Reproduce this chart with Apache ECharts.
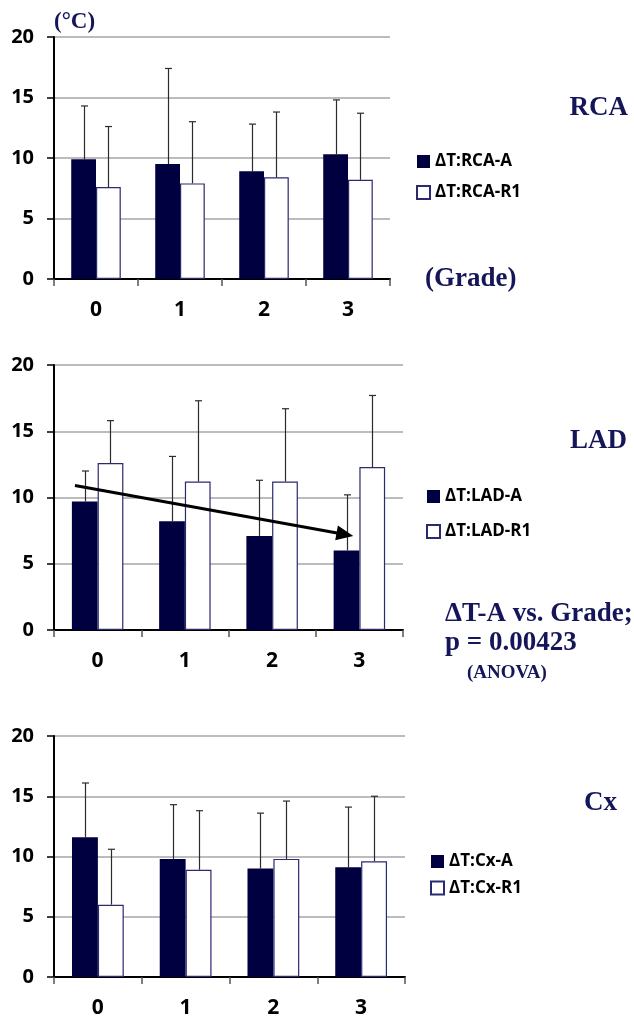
<!DOCTYPE html>
<html>
<head>
<meta charset="utf-8">
<script src="https://cdn.jsdelivr.net/npm/echarts@6/dist/echarts.min.js"></script>
<style>
  html, body { margin: 0; padding: 0; background: #fff; }
  #chart { width: 634px; height: 1019px; }
</style>
</head>
<body>
<div id="chart"></div>
<script>
// Coronary temperature differences (mean + SD) by grade, per vessel
const grades = ['0', '1', '2', '3'];

const rcaA    = [9.9, 9.5, 8.9, 10.3];
const rcaASd  = [4.4, 7.9, 3.9, 4.5];
const rcaR1   = [7.6, 7.9, 8.4, 8.2];
const rcaR1Sd = [5.0, 5.1, 5.4, 5.5];

const ladA    = [9.7, 8.2, 7.1, 6.0];
const ladASd  = [2.3, 4.9, 4.2, 4.2];
const ladR1   = [12.6, 11.2, 11.2, 12.3];
const ladR1Sd = [3.2, 6.1, 5.5, 5.4];

const cxA     = [11.6, 9.8, 9.0, 9.1];
const cxASd   = [4.5, 4.5, 4.6, 5.0];
const cxR1    = [6.0, 8.9, 9.8, 9.6];
const cxR1Sd  = [4.6, 4.9, 4.8, 5.4];

// trend arrow for ΔT-A in LAD: [x0, y0, x1, y1] in (grade, °C)
const ladTrendArrow = [[-0.26, 10.9, 2.93, 7.1]];

const yMin = 0, yMax = 20, yStep = 5;

// ---- styling ----
const NAVY = '#000040';
const EDGE = '#2a2a6e';
const TITLE_NAVY = '#15155a';
const SANS = '"Open Sans", Lato, sans-serif';
const SERIF = '"Liberation Serif", "DejaVu Serif", serif';
const GAP = 0.41;

const grids = [
  { left: 54, top: 37,  width: 336, height: 242 },
  { left: 54, top: 365, width: 349, height: 265 },
  { left: 54, top: 736, width: 351, height: 243 }
];

const panels = [
  { a: rcaA, aSd: rcaASd, r: rcaR1, rSd: rcaR1Sd, nameA: 'ΔT:RCA-A', nameR: 'ΔT:RCA-R1',
    legend: { left: 416, top: 153, itemGap: 14 } },
  { a: ladA, aSd: ladASd, r: ladR1, rSd: ladR1Sd, nameA: 'ΔT:LAD-A', nameR: 'ΔT:LAD-R1',
    legend: { left: 426, top: 488, itemGap: 18 } },
  { a: cxA, aSd: cxASd, r: cxR1, rSd: cxR1Sd, nameA: 'ΔT:Cx-A', nameR: 'ΔT:Cx-R1',
    legend: { left: 430, top: 853, itemGap: 9.5 } }
];

function errorBars(side) {
  return function (params, api) {
    const i = api.value(0);
    const mean = api.value(1);
    const sd = api.value(2);
    const base = api.coord([i, mean]);
    const top = api.coord([i, mean + sd]);
    const band = api.size([1, 0])[0];
    const w = band * (1 - GAP) / 2;
    const x = Math.round(base[0] + side * w / 2) + 0.5;
    const st = { stroke: '#2b2b2b', lineWidth: 1.2 };
    return {
      type: 'group',
      children: [
        { type: 'line', shape: { x1: x, y1: base[1], x2: x, y2: top[1] }, style: st },
        { type: 'line', shape: { x1: x - 3.5, y1: top[1], x2: x + 3.5, y2: top[1] }, style: st }
      ]
    };
  };
}

function arrowItem(params, api) {
  const p0 = api.coord([api.value(0), api.value(1)]);
  const p1 = api.coord([api.value(2), api.value(3)]);
  const dx = p1[0] - p0[0], dy = p1[1] - p0[1];
  const len = Math.sqrt(dx * dx + dy * dy);
  const ux = dx / len, uy = dy / len;
  const head = 17, half = 7.5;
  const bx = p1[0] - ux * head, by = p1[1] - uy * head;
  return {
    type: 'group',
    children: [
      { type: 'line', shape: { x1: p0[0], y1: p0[1], x2: bx + ux * 2, y2: by + uy * 2 },
        style: { stroke: '#000', lineWidth: 3 } },
      { type: 'polygon',
        shape: { points: [[p1[0], p1[1]], [bx - uy * half, by + ux * half], [bx + uy * half, by - ux * half]] },
        style: { fill: '#000' } }
    ]
  };
}

const xAxes = [], yAxes = [], series = [], legends = [];

panels.forEach((p, g) => {
  xAxes.push({
    type: 'category', gridIndex: g, data: grades,
    axisLine: { onZero: false, lineStyle: { color: '#000', width: 2 } },
    axisTick: { show: true, length: 7, lineStyle: { color: '#555', width: 1.5 } },
    axisLabel: { color: '#000', fontFamily: SANS, fontWeight: 'bold', fontSize: 21, margin: 21 },
    splitLine: { show: false }
  });
  yAxes.push({
    type: 'value', gridIndex: g, min: yMin, max: yMax, interval: yStep,
    axisLine: { show: true, onZero: false, lineStyle: { color: '#000', width: 2 } },
    axisTick: { show: true, length: 7, lineStyle: { color: '#000', width: 1.5 } },
    axisLabel: { color: '#000', fontFamily: SANS, fontWeight: 'bold', fontSize: 20, margin: 20 },
    splitLine: { show: true, lineStyle: { color: '#a6a6a6', width: 1.5 } }
  });
  series.push({
    name: p.nameA, type: 'bar', xAxisIndex: g, yAxisIndex: g,
    data: p.a, barGap: '0%', barCategoryGap: (GAP * 100) + '%',
    itemStyle: { color: NAVY, borderColor: NAVY, borderWidth: 0 }
  });
  series.push({
    name: p.nameR, type: 'bar', xAxisIndex: g, yAxisIndex: g,
    data: p.r, barGap: '0%', barCategoryGap: (GAP * 100) + '%',
    itemStyle: { color: '#fff', borderColor: EDGE, borderWidth: 1.2 }
  });
  series.push({
    name: p.nameA + ' SD', type: 'custom', xAxisIndex: g, yAxisIndex: g, z: 5,
    renderItem: errorBars(-1), encode: { x: 0, y: 1 },
    data: p.a.map((v, i) => [i, v, p.aSd[i]])
  });
  series.push({
    name: p.nameR + ' SD', type: 'custom', xAxisIndex: g, yAxisIndex: g, z: 5,
    renderItem: errorBars(1), encode: { x: 0, y: 1 },
    data: p.r.map((v, i) => [i, v, p.rSd[i]])
  });
  legends.push(Object.assign({
    orient: 'vertical', data: [p.nameA, p.nameR], padding: 0,
    itemWidth: 13, itemHeight: 13, icon: 'rect', selectedMode: false,
    textStyle: { color: '#000', fontFamily: SANS, fontWeight: 'bold', fontSize: 17 }
  }, p.legend));
});

// hidden continuous x axis on the LAD panel for the trend arrow
xAxes.push({ type: 'value', gridIndex: 1, min: -0.5, max: 3.5, show: false });
series.push({
  name: 'ΔT-A trend', type: 'custom', xAxisIndex: 3, yAxisIndex: 1, z: 10,
  renderItem: arrowItem, encode: { x: [0, 2], y: [1, 3] },
  data: ladTrendArrow, silent: true
});

function label(text, x, y, size, align) {
  return {
    type: 'text', x: x, y: y, z: 20,
    style: {
      text: text, fill: TITLE_NAVY,
      font: 'bold ' + size + 'px ' + SERIF,
      textAlign: align, align: align,
      textVerticalAlign: 'middle', verticalAlign: 'middle'
    }
  };
}

const option = {
  animation: false,
  backgroundColor: '#fff',
  grid: grids.map(g => Object.assign({ containLabel: false }, g)),
  xAxis: xAxes,
  yAxis: yAxes,
  legend: legends,
  series: series,
  graphic: [
    label('(°C)', 54, 22, 23, 'left'),
    label('RCA', 628, 108, 27, 'right'),
    label('(Grade)', 425, 279, 27, 'left'),
    label('LAD', 627, 441, 27, 'right'),
    label('ΔT-A vs. Grade;', 445, 614, 27, 'left'),
    label('p = 0.00423', 445, 643, 27, 'left'),
    label('(ANOVA)', 467, 673, 19, 'left'),
    label('Cx', 617, 803, 27, 'right')
  ]
};

const chart = echarts.init(document.getElementById('chart'), null, { renderer: 'canvas' });
chart.setOption(option);
</script>
</body>
</html>
